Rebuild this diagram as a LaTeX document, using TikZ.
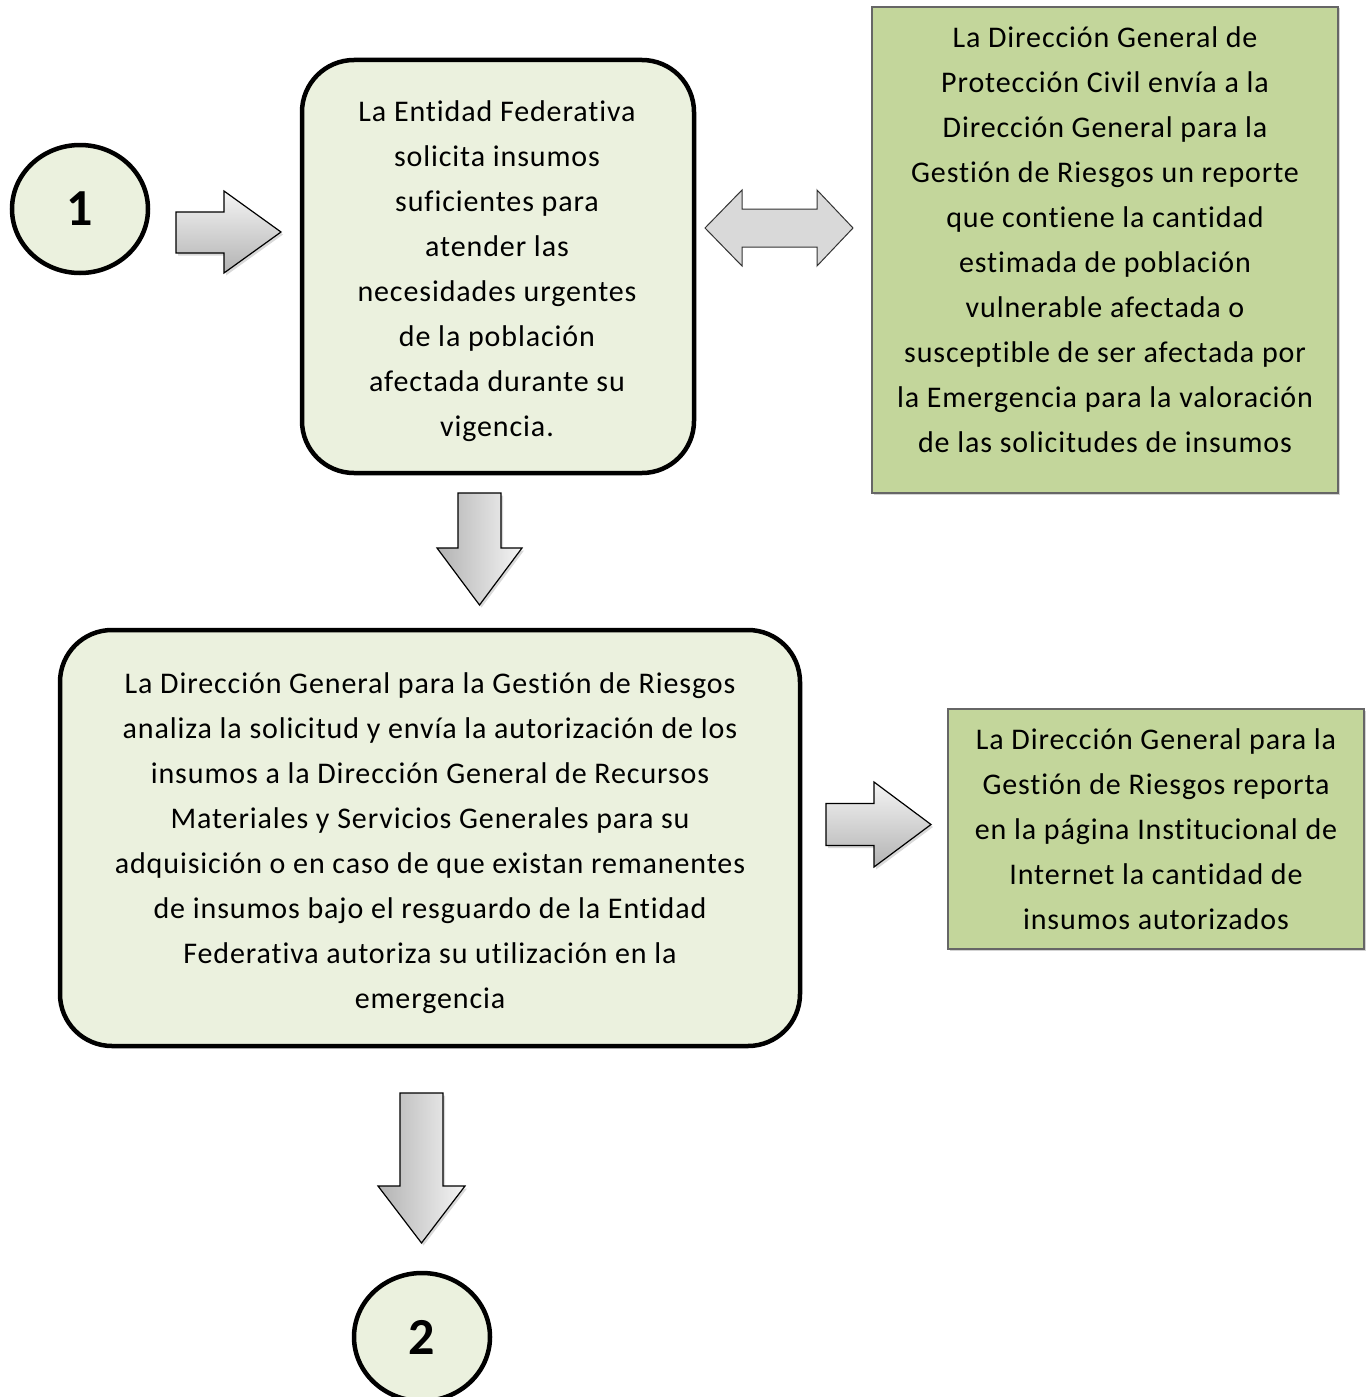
\documentclass[tikz,border=0pt]{standalone}
\usepackage{fontspec}
\setmainfont{Carlito}[Ligatures=CommonOff, LetterSpace=3.0]
\usetikzlibrary{shapes.geometric,shadows}
\definecolor{paleg}{HTML}{EBF1DE}
\definecolor{greenb}{HTML}{C3D69B}
\definecolor{arrowg}{HTML}{D9D9D9}
\begin{document}
\begin{tikzpicture}[x=1pt,y=-1pt,
  bodytext/.style={font=\fontsize{30}{45}\selectfont, align=center, inner sep=0pt},
  roundbox/.style={draw=black, line width=4.5pt, fill=paleg, rounded corners=52pt, inner sep=0pt},
  greenbox/.style={draw=black!60, line width=1.5pt, fill=greenb, inner sep=0pt,
    drop shadow={shadow xshift=1.5pt, shadow yshift=-1.5pt, opacity=0.35}},
  numcircle/.style={ellipse, draw=black, line width=4.5pt, fill=paleg, inner sep=0pt,
    minimum width=136pt, minimum height=128pt, font=\fontsize{52}{52}\selectfont\bfseries},
  blockarrow/.style={draw=black, line width=1.2pt, line join=miter,
    drop shadow={shadow xshift=2pt, shadow yshift=-2.5pt, opacity=0.3}},
  rightshade/.style={blockarrow, top color=black!4, bottom color=black!30},
  downshade/.style={blockarrow, left color=black!30, right color=black!4},
  flatarrow/.style={draw=black!80, line width=1pt, fill=arrowg, line join=miter}
]
\useasboundingbox (0,0) rectangle (1367,1397);

% circles
\node[numcircle] (c1) at (80,209) {\raisebox{-3pt}{1}};
\node[numcircle] (c2) at (422,1337) {2};

% boxes
\node[roundbox, minimum width=392pt, minimum height=413pt] (b1) at (498,266.5) {};
\node[bodytext] (t1) at (497,271.5) {La Entidad Federativa\\solicita insumos\\suficientes para\\atender las\\necesidades urgentes\\de la población\\afectada durante su\\vigencia.};

\node[greenbox, minimum width=466pt, minimum height=486pt] (b2) at (1105,250) {};
\node[bodytext] (t2) at (1105,240) {La Dirección General de\\Protección Civil envía a la\\Dirección General para la\\Gestión de Riesgos un reporte\\que contiene la cantidad\\estimada de población\\vulnerable afectada o\\susceptible de ser afectada por\\la Emergencia para la valoración\\de las solicitudes de insumos};

\node[roundbox, minimum width=740pt, minimum height=416pt] (b3) at (430,838) {};
\node[bodytext] (t3) at (430,843) {La Dirección General para la Gestión de Riesgos\\analiza la solicitud y envía la autorización de los\\insumos a la Dirección General de Recursos\\Materiales y Servicios Generales para su\\adquisición o en caso de que existan remanentes\\de insumos bajo el resguardo de la Entidad\\Federativa autoriza su utilización en la\\emergencia};

\node[greenbox, minimum width=416pt, minimum height=240pt] (b4) at (1156,829) {};
\node[bodytext] (t4) at (1156,829) {La Dirección General para la\\Gestión de Riesgos reporta\\en la página Institucional de\\Internet la cantidad de\\insumos autorizados};

% block arrows
\draw[rightshade] (176,212) -- (224,212) -- (224,191) -- (281,232) -- (224,273) -- (224,253) -- (176,253) -- cycle;
\draw[rightshade] (826,803.5) -- (874,803.5) -- (874,782) -- (931,824.5) -- (874,867) -- (874,845.5) -- (826,845.5) -- cycle;
\draw[downshade] (458,493) -- (501,493) -- (501,548) -- (522,548) -- (479.5,605) -- (437,548) -- (458,548) -- cycle;
\draw[downshade] (400,1093) -- (443,1093) -- (443,1186) -- (465,1186) -- (421.5,1243) -- (378,1186) -- (400,1186) -- cycle;
\draw[flatarrow] (705,228) -- (742,190) -- (742,209) -- (817,209) -- (817,190) -- (853,228) -- (817,266) -- (817,247) -- (742,247) -- (742,266) -- cycle;
\end{tikzpicture}
\end{document}
